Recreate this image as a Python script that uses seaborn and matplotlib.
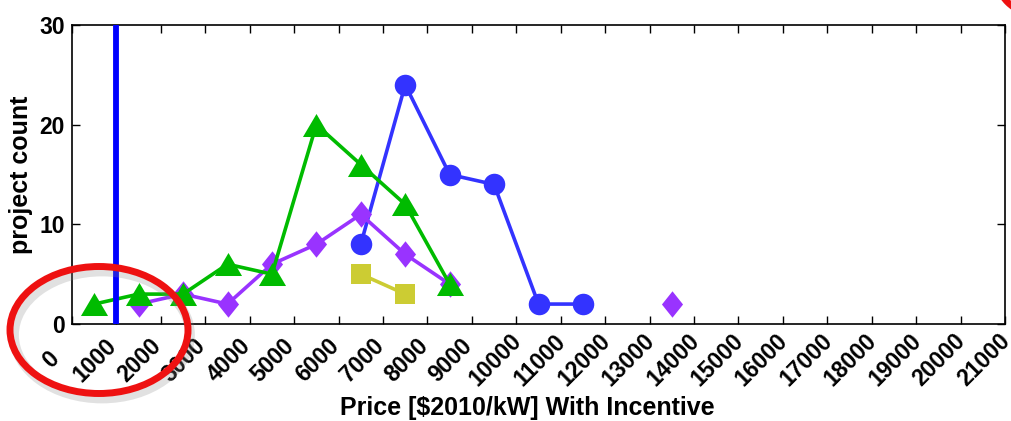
import matplotlib
matplotlib.use("Agg")
import matplotlib.pyplot as plt
import seaborn as sns
import pandas as pd
from matplotlib.patches import Ellipse
from matplotlib.transforms import ScaledTranslation

# ---- data ----
x_ticks = list(range(0, 21001, 1000))
y_ticks = [0, 10, 20, 30]
vline_x = 1000

green_x = [500, 1500, 2500, 3500, 4500, 5500, 6500, 7500, 8500]
green_y = [2, 3, 3, 6, 5, 20, 16, 12, 4]

purple_x = [1500, 2500, 3500, 4500, 5500, 6500, 7500, 8500]
purple_y = [2, 3, 2, 6, 8, 11, 7, 4]
purple_iso_x = [13500]
purple_iso_y = [2]

blue_x = [6500, 7500, 8500, 9500, 10500, 11500]
blue_y = [8, 24, 15, 14, 2, 2]

yellow_x = [6500, 7500]
yellow_y = [5, 3]

x_label = "Price [$2010/kW] With Incentive"
y_label = "project count"

# ---- style ----
sns.set_theme(style="white")
plt.rcParams["font.family"] = ["Liberation Sans", "DejaVu Sans"]
plt.rcParams["font.weight"] = "bold"
plt.rcParams["axes.labelweight"] = "bold"

W, H = 1011, 421
fig = plt.figure(figsize=(W / 100, H / 100), dpi=100)
ax = fig.add_axes([72 / W, 1 - 324 / H, (1005 - 72) / W, (324 - 25) / H])

tri = [(-1, -0.85), (1, -0.85), (0, 0.85)]
dia = [(0, 1), (0.8, 0), (0, -1), (-0.8, 0)]

sns.lineplot(x=blue_x, y=blue_y, ax=ax, color="#3333FF", linewidth=2.6,
             marker="o", markersize=15.5, markeredgewidth=0, zorder=2)
sns.lineplot(x=yellow_x, y=yellow_y, ax=ax, color="#CCCC33", linewidth=2.6,
             marker="s", markersize=14.5, markeredgewidth=0, zorder=2)
sns.lineplot(x=purple_x, y=purple_y, ax=ax, color="#9933FF", linewidth=2.6,
             marker=dia, markersize=19, markeredgewidth=0, zorder=3)
sns.lineplot(x=purple_iso_x, y=purple_iso_y, ax=ax, color="#9933FF", linewidth=2.6,
             marker=dia, markersize=19, markeredgewidth=0, zorder=3)
sns.lineplot(x=green_x, y=green_y, ax=ax, color="#00BB00", linewidth=2.6,
             marker=tri, markersize=19.5, markeredgewidth=0, zorder=4)
ax.axvline(vline_x, color="#0000FF", linewidth=4.2, zorder=5)

ax.set_xlim(0, 21000)
ax.set_ylim(0, 30)
ax.set_xticks(x_ticks)
ax.set_yticks(y_ticks)
ax.set_xticklabels([str(t) for t in x_ticks], rotation=45, ha="center",
                   va="center", rotation_mode="anchor", fontsize=16.5, fontweight="bold")
ax.set_yticklabels([str(t) for t in y_ticks], fontsize=16.5, fontweight="bold")
ax.tick_params(axis="x", direction="in", length=5.5, width=1, top=True, bottom=True, pad=0, colors="black")
ax.tick_params(axis="y", direction="in", length=5.5, width=1, left=True, right=True, pad=5, colors="black")

off = ScaledTranslation(-21 / 100, -36 / 100, fig.dpi_scale_trans)
for lab in ax.get_xticklabels():
    lab.set_transform(lab.get_transform() + off)

for s in ax.spines.values():
    s.set_color("black")
    s.set_linewidth(1.2)

ax.set_xlabel(x_label, fontsize=18, fontweight="bold", color="black", va="center")
ax.set_ylabel(y_label, fontsize=18, fontweight="bold", color="black", va="center", ha="center")
ax.xaxis.set_label_coords(527 / W, 1 - 408 / H, transform=fig.transFigure)
ax.yaxis.set_label_coords(21 / W, 1 - 175 / H, transform=fig.transFigure)

# annotation ellipses
shadow = Ellipse(((99 + 3) / W, 1 - (330 + 5) / H), 176 / W, 127 / H,
                 transform=fig.transFigure, fill=False, ec="#888888",
                 lw=7, alpha=0.25, zorder=9)
fig.add_artist(shadow)
ring = Ellipse((99 / W, 1 - 330 / H), 178 / W, 127 / H,
               transform=fig.transFigure, fill=False, ec="#EE1111",
               lw=5, zorder=10)
fig.add_artist(ring)
ring2 = Ellipse((1036 / W, 1 + 26 / H), 80 / W, 80 / H,
                transform=fig.transFigure, fill=False, ec="#EE1111",
                lw=4.8, zorder=10)
fig.add_artist(ring2)

fig.savefig("out.png", dpi=100)
